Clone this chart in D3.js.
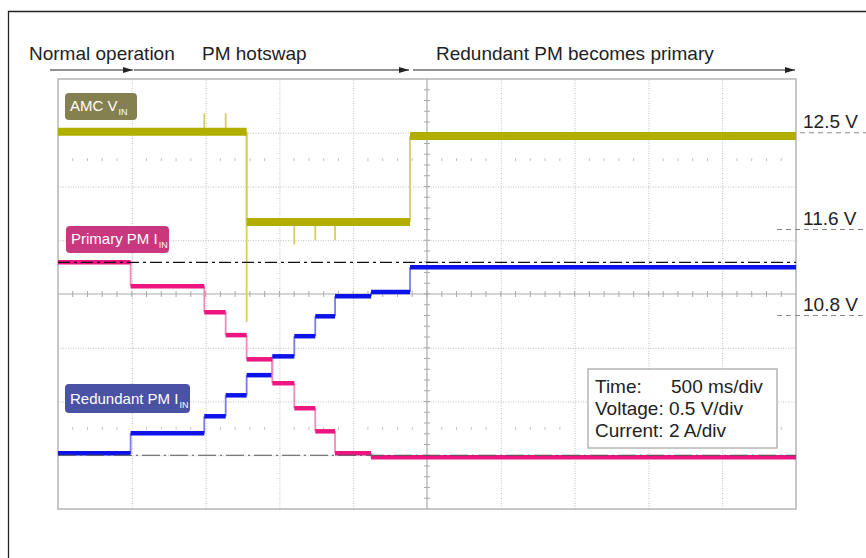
<!DOCTYPE html>
<meta charset="utf-8">
<head>
    <style>
        body {
            margin: 0;
            background: #fff;
            font-family: "Liberation Sans", Arial, Helvetica, sans-serif;
        }
        text { fill: #222; }
        .grid line { stroke: #bdbdbd; stroke-dasharray: 1, 1.5; }
        .grid path { stroke: none; }
        .tag text { fill: #fff; }
    </style>
    <script src="https://d3js.org/d3.v7.min.js"></script>
</head>
<body>
<svg id="chart" width="866" height="558"></svg>
<script>
// time in ms, 500 ms/div; volts 0.5 V/div; amps 2 A/div
var tEnd = 5000;

var phaseNames = ["Normal operation", "PM hotswap", "Redundant PM becomes primary"];
var phaseBounds = [0, 500, 2385, 5000];

var amcT = [0, 1278, 2385];
var amcV = [12.51, 11.67, 12.47];
var amcSpikes = [[991, 12.68], [1136, 12.68], [1278, 10.74], [1601, 11.46], [1743, 11.50], [1877, 11.50]];

var primaryT = [0, 492, 991, 1136, 1278, 1452, 1601, 1743, 1877, 2121];
var primaryA = [7.18, 6.29, 5.32, 4.47, 3.57, 2.68, 1.75, 0.89, 0.07, -0.07];

var redundantT = [0, 492, 991, 1136, 1278, 1452, 1601, 1743, 1877, 2121, 2385];
var redundantA = [0.07, 0.82, 1.45, 2.23, 2.98, 3.68, 4.43, 5.17, 5.92, 6.07, 7.00];

var voltMarks = [12.5, 11.6, 10.8];
var infoRows = [["Time:", "500 ms/div"], ["Voltage:", "0.5 V/div"], ["Current:", "2 A/div"]];

var pL = 58, pR = 796, pT = 79, pB = 509;

var svg = d3.select("#chart");

var x = d3.scaleLinear().domain([0, tEnd]).range([pL, pR]);
var yDiv = d3.scaleLinear().domain([-4, 4]).range([pB, pT]);
var yVolt = d3.scaleLinear().domain([9, 13]).range([pB, pT]);
var yAmp = d3.scaleLinear().domain([-2, 14]).range([pB, pT]);

// outer frame
svg.append("path")
    .attr("d", "M866,11.5 H8.5 V558")
    .attr("fill", "none").attr("stroke", "#222").attr("stroke-width", 1.3);

// grid
svg.append("g").attr("class", "grid")
    .attr("transform", "translate(0," + pB + ")")
    .call(d3.axisBottom(x).tickValues(d3.range(500, tEnd, 500).filter(function (d) { return d != 2500 }))
        .tickSize(-(pB - pT)).tickFormat(""));
svg.append("g").attr("class", "grid")
    .attr("transform", "translate(" + pL + ",0)")
    .call(d3.axisLeft(yDiv).tickValues([-3, -2, -1, 1, 2, 3])
        .tickSize(-(pR - pL)).tickFormat(""));

// center cross with minor ticks
var cx = x(2500), cy = yDiv(0);
svg.append("line").attr("x1", pL).attr("x2", pR).attr("y1", cy).attr("y2", cy)
    .attr("stroke", "#aaa").attr("stroke-width", 1.2);
svg.append("line").attr("x1", cx).attr("x2", cx).attr("y1", pT).attr("y2", pB)
    .attr("stroke", "#aaa").attr("stroke-width", 1.2);

var minorT = d3.range(100, tEnd, 100);
svg.append("g").selectAll("line").data(minorT).enter().append("line")
    .attr("x1", function (d) { return x(d) }).attr("x2", function (d) { return x(d) })
    .attr("y1", cy - 3).attr("y2", cy + 3)
    .attr("stroke", "#aaa");
var minorY = d3.range(-3.8, 4, 0.2);
svg.append("g").selectAll("line").data(minorY).enter().append("line")
    .attr("x1", cx - 3).attr("x2", cx + 3)
    .attr("y1", function (d) { return yDiv(d) }).attr("y2", function (d) { return yDiv(d) })
    .attr("stroke", "#aaa");
[2.5, -2.5].forEach(function (r) {
    svg.append("g").selectAll("line").data(minorT.filter(function (d) { return d % 500 }))
        .enter().append("line")
        .attr("x1", function (d) { return x(d) }).attr("x2", function (d) { return x(d) })
        .attr("y1", yDiv(r) - 1.5).attr("y2", yDiv(r) + 1.5)
        .attr("stroke", "#c4c4c4");
});

svg.append("rect").attr("x", pL).attr("y", pT)
    .attr("width", pR - pL).attr("height", pB - pT)
    .attr("fill", "none").attr("stroke", "#aaa").attr("stroke-width", 1.3);

// step traces
function drawSteps(T, V, y, color, light, width) {
    var g = svg.append("g");
    var segs = T.map(function (t, i) { return { t0: t, t1: i < T.length - 1 ? T[i + 1] : tEnd, v: V[i] } });
    g.selectAll(".v").data(segs.slice(1)).enter().append("line")
        .attr("x1", function (d) { return x(d.t0) }).attr("x2", function (d) { return x(d.t0) })
        .attr("y1", function (d, i) { return y(segs[i].v) }).attr("y2", function (d) { return y(d.v) })
        .attr("stroke", light).attr("stroke-width", 1.8);
    g.selectAll(".h").data(segs).enter().append("line")
        .attr("x1", function (d) { return x(d.t0) }).attr("x2", function (d) { return x(d.t1) })
        .attr("y1", function (d) { return y(d.v) }).attr("y2", function (d) { return y(d.v) })
        .attr("stroke", color).attr("stroke-width", width);
    return g;
}

drawSteps(redundantT, redundantA, yAmp, "#0c12ea", "#7a7ce8", 4.5);
drawSteps(primaryT, primaryA, yAmp, "#ee1580", "#ee8cbc", 4.5);

// AMC spikes
function amcAt(t) {
    var i = d3.bisectRight(amcT, t) - 1;
    return amcV[Math.max(0, i)];
}
svg.append("g").selectAll("line").data(amcSpikes).enter().append("line")
    .attr("x1", function (d) { return x(d[0]) }).attr("x2", function (d) { return x(d[0]) })
    .attr("y1", function (d) { return yVolt(d[0] == 1278 ? amcV[0] : amcAt(d[0])) })
    .attr("y2", function (d) { return yVolt(d[1]) })
    .attr("stroke", "#d3cf62").attr("stroke-width", 1.8);
drawSteps(amcT, amcV, yVolt, "#b2ae00", "#d3cf62", 8);

// reference lines
svg.append("line").attr("x1", pL).attr("x2", pR)
    .attr("y1", yAmp(primaryA[0])).attr("y2", yAmp(primaryA[0]))
    .attr("stroke", "#111").attr("stroke-width", 1.2).attr("stroke-dasharray", "12,4,3,4");
svg.append("line").attr("x1", pL).attr("x2", pR)
    .attr("y1", yAmp(0)).attr("y2", yAmp(0))
    .attr("stroke", "#555").attr("stroke-width", 1.2).attr("stroke-dasharray", "18,4,2,4");

// phase arrows
var defs = svg.append("defs");
defs.append("marker").attr("id", "head")
    .attr("viewBox", "0 0 10 6").attr("refX", 10).attr("refY", 3)
    .attr("markerWidth", 10).attr("markerHeight", 6).attr("markerUnits", "userSpaceOnUse")
    .attr("orient", "auto")
    .append("path").attr("d", "M0,0 L10,3 L0,6 Z").attr("fill", "#222");

var arrowY = 70;
var arrowX = [[50, x(phaseBounds[1]) + 1], [x(phaseBounds[1]) + 2, x(phaseBounds[2]) - 1], [x(phaseBounds[2]) + 3, x(phaseBounds[3]) - 1]];
svg.append("g").selectAll("line").data(arrowX).enter().append("line")
    .attr("x1", function (d) { return d[0] }).attr("x2", function (d) { return d[1] })
    .attr("y1", arrowY).attr("y2", arrowY)
    .attr("stroke", "#222").attr("stroke-width", 1.1)
    .attr("marker-end", "url(#head)");

var labelX = [29, 202, 436];
svg.append("g").selectAll("text").data(phaseNames).enter().append("text")
    .attr("x", function (d, i) { return labelX[i] }).attr("y", 60)
    .attr("font-size", "19px")
    .text(function (d) { return d });

// voltage marks at the right
var vm = svg.append("g").selectAll("g").data(voltMarks).enter().append("g");
vm.append("line")
    .attr("x1", function (d, i) { return i == 0 ? 800 : 777 }).attr("x2", 866)
    .attr("y1", function (d) { return yVolt(d) }).attr("y2", function (d) { return yVolt(d) })
    .attr("stroke", "#888").attr("stroke-dasharray", "5,4");
vm.append("text")
    .attr("x", 803).attr("y", function (d) { return yVolt(d) - 5 })
    .attr("font-size", "19px")
    .text(function (d) { return d.toFixed(1) + " V" });

// trace tags
function tag(x0, y0, w, h, fill, main, sub) {
    var g = svg.append("g").attr("class", "tag");
    g.append("rect").attr("x", x0).attr("y", y0).attr("width", w).attr("height", h)
        .attr("rx", 4).attr("fill", fill);
    var t = g.append("text").attr("x", x0 + 5).attr("y", y0 + h - 9).attr("font-size", "15px");
    t.append("tspan").text(main);
    t.append("tspan").attr("font-size", "9px").attr("dy", 4).attr("dx", 1).text(sub);
}
tag(65, 93, 72, 27, "#858050", "AMC V", "IN");
tag(66, 226, 103, 27, "#c9387f", "Primary PM I", "IN");
tag(65, 384, 125, 29, "#4a52a4", "Redundant PM I", "IN");

// info box
var info = svg.append("g");
info.append("rect").attr("x", 588).attr("y", 369).attr("width", 189).attr("height", 79)
    .attr("fill", "#fff").attr("stroke", "#aaa").attr("stroke-width", 1.3);
info.selectAll("text").data(infoRows).enter().append("text")
    .attr("x", 595).attr("y", function (d, i) { return 393 + i * 22 })
    .attr("font-size", "19px")
    .text(function (d, i) { return i == 0 ? d[0] : d[0] + " " + d[1] });
info.append("text").attr("x", 671).attr("y", 393).attr("font-size", "19px").text(infoRows[0][1]);
</script>
</body>
